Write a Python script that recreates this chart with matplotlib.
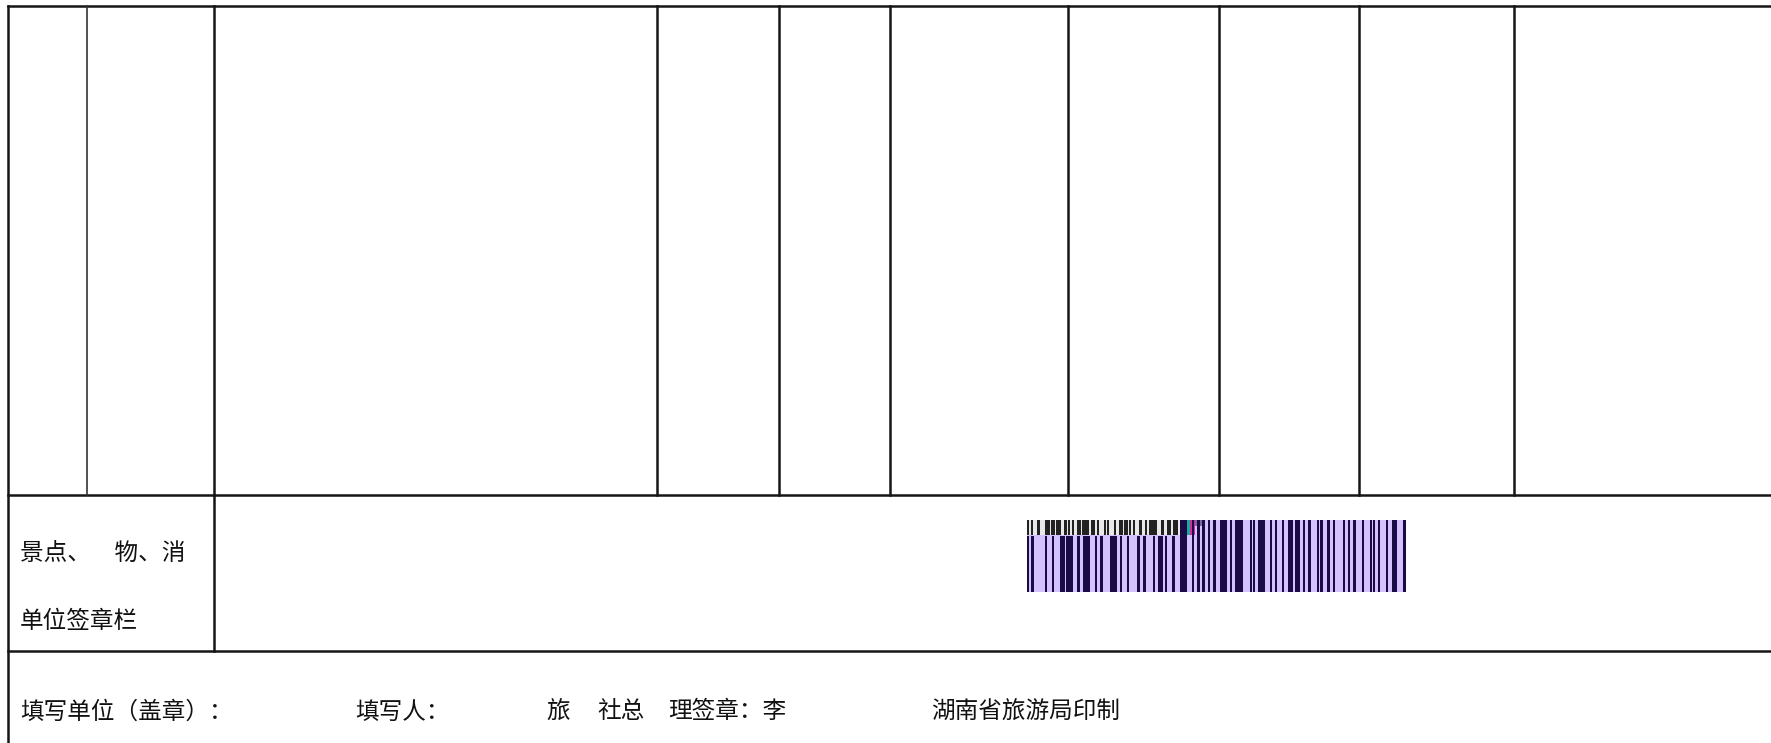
import matplotlib.pyplot as plt
from matplotlib.patches import Rectangle

plt.rcParams['font.family'] = ['Noto Sans CJK SC', 'DejaVu Sans']

W, H = 1771, 743

# table grid (pixel positions of the form)
col_edges = [87, 214, 657, 779, 890, 1068, 1219, 1359, 1514]
row_top, row_mid, row_bot = 6, 495, 651
left_x = 8

sign_label = ['景点、　物、消', '单位签章栏']
footer_texts = ['填写单位（盖章）：', '填写人：', '旅', '社总', '理签章：李', '湖南省旅游局印制']
footer_x = [20, 355, 546, 597, 668, 931]

# barcode, in pixels from the barcode's left edge
bc_x0, bc_x1 = 1027, 1406
bc_top, bc_strip, bc_bot = 520, 535, 592
bar_left = [0, 4, 18, 25, 33, 39, 50, 56, 68, 73, 83, 93, 100, 110, 116, 126, 131, 138, 145,
            153, 165, 170, 175, 181, 186, 193, 203, 208, 223, 226, 231, 243, 248, 255, 261,
            268, 276, 281, 290, 293, 300, 306, 316, 321, 326, 335, 343, 346, 351, 359, 365, 376]
bar_w = [2, 3, 2, 2, 5, 7, 3, 7, 2, 3, 7, 2, 2, 3, 3, 2, 5, 2, 3,
         7, 2, 3, 3, 2, 3, 7, 2, 8, 2, 2, 7, 2, 2, 2, 5,
         5, 2, 3, 2, 3, 3, 2, 2, 2, 3, 2, 2, 2, 2, 2, 5, 3]
top_bar_left = [0, 4, 10, 18, 24, 29, 37, 41, 45, 50, 55, 60, 64, 70, 77, 80, 87, 92, 97, 102,
                106, 112, 118, 122, 128, 134, 140, 146]
top_bar_w = [1, 1, 2, 4, 3, 4, 2, 1, 1, 3, 4, 1, 3, 1, 1, 1, 1, 3, 3, 1,
             1, 2, 1, 5, 1, 2, 3, 4]

fig = plt.figure(figsize=(W / 100, H / 100), dpi=100)
ax = fig.add_axes([0, 0, 1, 1])
ax.set_xlim(0, W)
ax.set_ylim(H, 0)
ax.axis('off')

lc = '#151515'
lw = 1.8
ax.plot([left_x, W], [row_top, row_top], color=lc, lw=lw)
ax.plot([left_x, W], [row_mid, row_mid], color=lc, lw=lw)
ax.plot([left_x, W], [row_bot, row_bot], color=lc, lw=lw)
ax.plot([left_x, left_x], [row_top, H], color=lc, lw=lw)
for i, x in enumerate(col_edges):
    ax.plot([x, x], [row_top, row_mid], color='#333333' if i == 0 else lc,
            lw=1.2 if i == 0 else lw)
ax.plot([col_edges[1], col_edges[1]], [row_mid, row_bot], color=lc, lw=lw)

fs = 17
ax.text(20, 553, sign_label[0], fontsize=fs, va='center', ha='left', color='#111111')
ax.text(20, 621, sign_label[1], fontsize=fs, va='center', ha='left', color='#111111')
for t, x in zip(footer_texts, footer_x):
    ax.text(x, 712, t, fontsize=fs, va='center', ha='left', color='#111111')

# barcode image
ax.add_patch(Rectangle((bc_x0, bc_top), bc_x1 - bc_x0, bc_bot - bc_top,
                       facecolor='#d3c2fb', edgecolor='none'))
split = 153
ax.add_patch(Rectangle((bc_x0, bc_top), split, bc_strip - bc_top,
                       facecolor='#e8e8e8', edgecolor='none'))
for l, w in zip(top_bar_left, top_bar_w):
    ax.add_patch(Rectangle((bc_x0 + l, bc_top), w + 1, bc_strip - bc_top,
                           facecolor='#222222', edgecolor='none'))
ax.add_patch(Rectangle((bc_x0 + split, bc_top), 5, bc_strip - bc_top,
                       facecolor='#e0209a', edgecolor='none'))
ax.add_patch(Rectangle((bc_x0 + split + 5, bc_top), 5, bc_strip - bc_top,
                       facecolor='#1aa89a', edgecolor='none'))
ax.add_patch(Rectangle((bc_x0 + split + 10, bc_top), 5, bc_strip - bc_top,
                       facecolor='#d62a9e', edgecolor='none'))
ax.add_patch(Rectangle((bc_x0 + split + 15, bc_top), 8, 6,
                       facecolor='#7a6aa0', edgecolor='none'))
for l, w in zip(bar_left, bar_w):
    y0 = bc_strip + 1 if l < split else bc_top
    ax.add_patch(Rectangle((bc_x0 + l, y0), w, bc_bot - y0,
                           facecolor='#1a0a45', edgecolor='none'))

fig.savefig('out.png', dpi=100)
